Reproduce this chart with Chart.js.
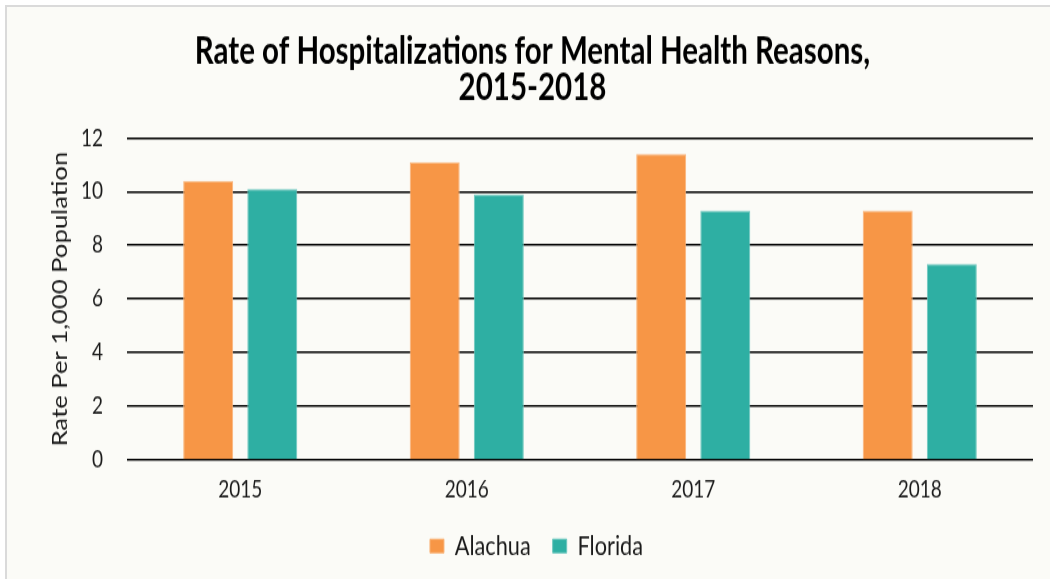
<!DOCTYPE html>
<html>
<head>
<meta charset="utf-8">
<script src="https://cdn.jsdelivr.net/npm/chart.js@4/dist/chart.umd.min.js"></script>
<style>
  html, body { margin: 0; padding: 0; background: #ffffff; overflow: hidden; }
  #frame { position: absolute; left: 5px; top: 5px; width: 1045px; height: 574px;
           border-left: 2px solid #dadada; border-top: 2px solid #dadada; background: #fbfbf7; }
  #wrap { position: absolute; left: 0; top: 0; width: 1050px; height: 463px;
          transform: scaleY(1.25); transform-origin: 0 0; }
  canvas { display: block; }
</style>
</head>
<body>
<div id="frame"></div>
<div id="wrap"><canvas id="c" width="1050" height="463"></canvas></div>
<script>
const categories = ["2015", "2016", "2017", "2018"];
const alachua = [10.4, 11.1, 11.4, 9.3];
const florida = [10.1, 9.9, 9.3, 7.3];
const yTicks = [0, 2, 4, 6, 8, 10, 12];
const titleLines = ["Rate of Hospitalizations for Mental Health Reasons,", "2015-2018"];
const yTitle = "Rate Per 1,000 Population";

const FONT = "Lato, 'Open Sans', 'Liberation Sans', sans-serif";

const boxShift = {
  id: 'boxShift',
  afterLayout(chart) {
    const lg = chart.legend;
    if (lg) { lg.left += 17; lg.right += 17; }
    const tb = chart.titleBlock;
    if (tb) { tb.left += 13; tb.right += 13; }
  }
};

new Chart(document.getElementById('c'), {
  type: 'bar',
  data: {
    labels: categories,
    datasets: [
      { label: 'Alachua', data: alachua, backgroundColor: '#f79646', borderColor: '#f9b47a', borderWidth: 1,
        categoryPercentage: 0.566, barPercentage: 0.78 },
      { label: 'Florida', data: florida, backgroundColor: '#2eafa3', borderColor: '#6cc7be', borderWidth: 1,
        categoryPercentage: 0.566, barPercentage: 0.78 }
    ]
  },
  plugins: [boxShift],
  options: {
    responsive: false,
    animation: false,
    devicePixelRatio: 1,
    layout: { padding: { left: 6, right: 17, top: 0, bottom: 5.35 } },
    plugins: {
      title: {
        display: true,
        text: titleLines,
        color: '#000',
        font: { family: FONT, size: 29.5, weight: 'bold', lineHeight: 0.97 },
        padding: { top: 27.5, bottom: 25.7 }
      },
      legend: {
        display: true,
        position: 'bottom',
        labels: {
          color: '#1a1a1a',
          font: { family: FONT, size: 21.7 },
          boxWidth: 14, boxHeight: 11,
          padding: 22
        }
      },
      tooltip: { enabled: false }
    },
    scales: {
      x: {
        grid: { display: false, drawTicks: false },
        border: { display: false },
        afterFit: (s) => { s.height = 35.95; },
        ticks: { color: '#1a1a1a', font: { family: FONT, size: 19 }, padding: 12.8 }
      },
      y: {
        min: 0, max: 12,
        afterBuildTicks: (s) => { s.ticks = yTicks.map(v => ({ value: v })); },
        afterFit: (s) => { s.width = 121; },
        grid: { color: '#000', lineWidth: 1.6, drawTicks: false },
        border: { display: false },
        ticks: { color: '#1a1a1a', font: { family: FONT, size: 19 }, padding: 24 },
        title: {
          display: true, text: yTitle, color: '#1a1a1a',
          font: { family: FONT, size: 20.5, lineHeight: 1.2 },
          padding: { top: 42, bottom: 0 }
        }
      }
    }
  }
});
</script>
</body>
</html>
